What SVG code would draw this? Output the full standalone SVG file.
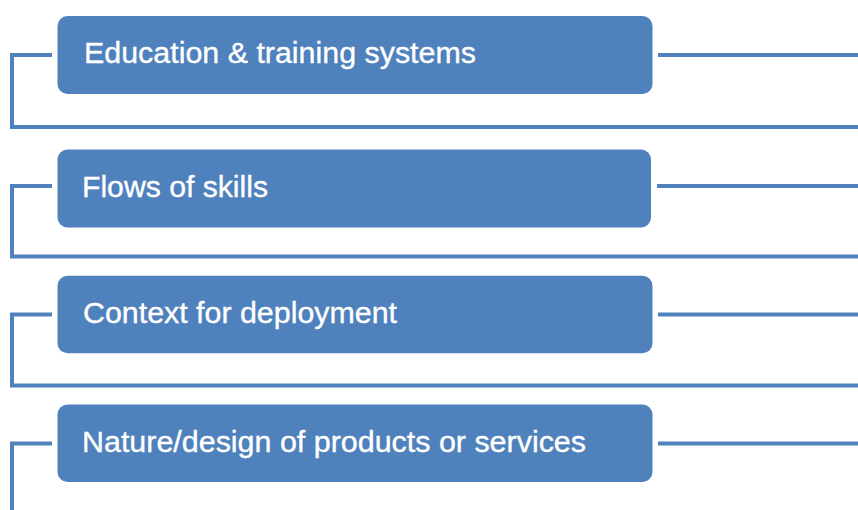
<svg xmlns="http://www.w3.org/2000/svg" width="858" height="510" viewBox="0 0 858 510">
<style>
.box{fill:#4F81BD;}
.lbl{fill:#FFFFFF;stroke:#FFFFFF;stroke-width:0.35;font-family:"Liberation Sans",Arial,sans-serif;font-size:29.5px;}
.con{fill:none;stroke:#4F81BD;stroke-width:4;}
</style>
<rect width="858" height="510" fill="#FFFFFF"/>
<g id="connectors">
<polyline class="con" points="52,55 12,55 12,127 858,127"/>
<line class="con" x1="658" y1="55" x2="858" y2="55"/>
<polyline class="con" points="52,186 12,186 12,256.5 858,256.5"/>
<line class="con" x1="657" y1="186" x2="858" y2="186"/>
<polyline class="con" points="52,314.5 12,314.5 12,385.5 858,385.5"/>
<line class="con" x1="658" y1="314.5" x2="858" y2="314.5"/>
<polyline class="con" points="52,443.5 12,443.5 12,512"/>
<line class="con" x1="658" y1="443.5" x2="858" y2="443.5"/>
</g>
<g id="node1">
<rect class="box" x="57.5" y="16" width="595" height="78" rx="10"/>
<text class="lbl" x="84" y="63.3" textLength="392" lengthAdjust="spacingAndGlyphs">Education &amp; training systems</text>
</g>
<g id="node2">
<rect class="box" x="57.5" y="149.5" width="593.5" height="78" rx="10"/>
<text class="lbl" x="82" y="197" textLength="186" lengthAdjust="spacingAndGlyphs">Flows of skills</text>
</g>
<g id="node3">
<rect class="box" x="57.5" y="275.7" width="595" height="77.6" rx="10"/>
<text class="lbl" x="83" y="323" textLength="314" lengthAdjust="spacingAndGlyphs">Context for deployment</text>
</g>
<g id="node4">
<rect class="box" x="57.5" y="404.5" width="595" height="77.5" rx="10"/>
<text class="lbl" x="82" y="452" textLength="504" lengthAdjust="spacingAndGlyphs">Nature/design of products or services</text>
</g>
</svg>
